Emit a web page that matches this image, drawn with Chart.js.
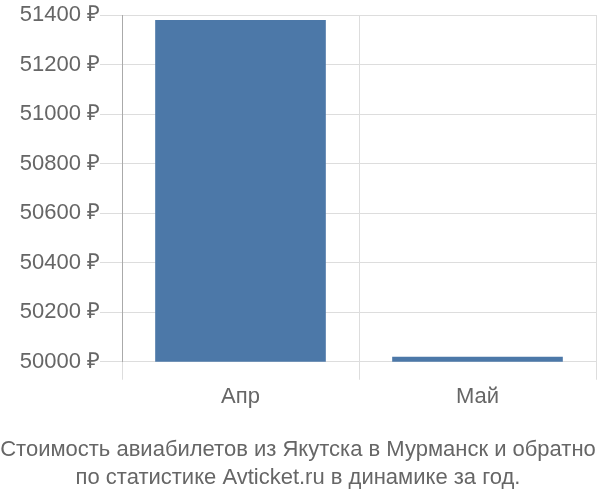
<!DOCTYPE html>
<html>
<head>
<meta charset="utf-8">
<script src="https://cdn.jsdelivr.net/npm/chart.js@4"></script>
<style>
  body { margin: 0; background: #fff; }
  #wrap { width: 600px; height: 500px; }
</style>
</head>
<body>
<div id="wrap"><canvas id="price-chart"></canvas></div>
<script>
// values
const months = ['Апр', 'Май'];
const prices = [51380, 50020];
const yTicks = [50000, 50200, 50400, 50600, 50800, 51000, 51200, 51400];
const titleLines = [
    'Стоимость авиабилетов из Якутска в Мурманск и обратно',
    'по статистике Avticket.ru в динамике за год.'
];

document.addEventListener('DOMContentLoaded', function() {
    loadPriceChart();
});

function loadPriceChart() {
    const ctx = document.getElementById('price-chart').getContext('2d');
    new Chart(ctx, {
        type: 'bar',
        data: {
            labels: months,
            datasets: [{
                data: prices,
                backgroundColor: '#4c78a8',
                borderWidth: 0
            }]
        },
        options: {
            responsive: true,
            maintainAspectRatio: false,
            animation: false,
            layout: { padding: { top: 15, right: 4, left: 0, bottom: 8 } },
            plugins: {
                legend: { display: false },
                tooltip: { enabled: false },
                title: {
                    display: true,
                    position: 'bottom',
                    text: titleLines,
                    color: '#666',
                    font: { family: 'Liberation Sans', size: 22, weight: 'normal', lineHeight: 1.27 },
                    padding: { top: 22, bottom: 0 }
                }
            },
            scales: {
                x: {
                    grid: { color: '#ddd', tickLength: 18, offset: true },
                    border: { color: '#ddd' },
                    ticks: {
                        color: '#666',
                        font: { family: 'Liberation Sans', size: 22 },
                        padding: 4
                    }
                },
                y: {
                    min: 50000,
                    max: 51400,
                    afterBuildTicks: function(scale) {
                        scale.ticks = yTicks.map(v => ({ value: v }));
                    },
                    afterFit: function(scale) { scale.width = 122; },
                    grid: { color: '#ddd', tickLength: 22 },
                    border: { color: '#aaa', width: 1 },
                    ticks: {
                        color: '#666',
                        font: { family: 'Liberation Sans', size: 22 },
                        padding: 0,
                        callback: v => v + ' ₽'
                    }
                }
            }
        }
    });
}
</script>
</body>
</html>
